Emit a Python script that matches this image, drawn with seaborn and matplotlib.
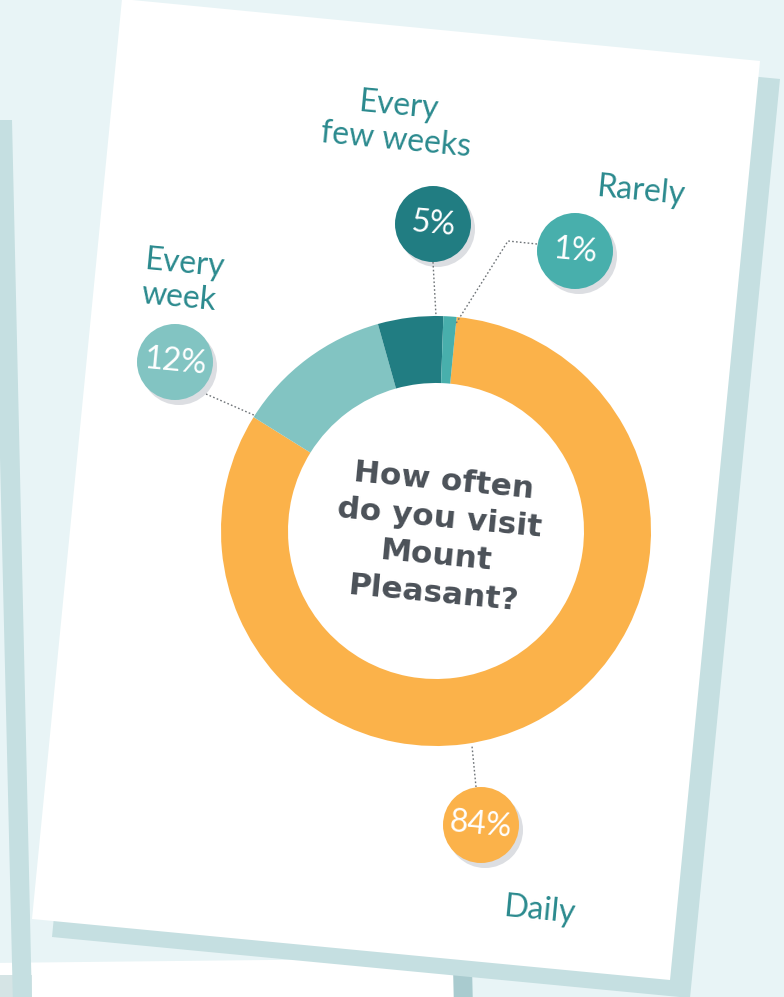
import numpy as np
import matplotlib
matplotlib.use("Agg")
import matplotlib.pyplot as plt
from matplotlib.patches import Polygon, Circle
import seaborn as sns

# ---------------- data ----------------
categories = ["Daily", "Every week", "Every few weeks", "Rarely"]
values = [84, 12, 5, 1]
pct_labels = ["84%", "12%", "5%", "1%"]
cat_labels = ["Daily", "Every\nweek", "Every\nfew weeks", "Rarely"]
title_text = "How often\ndo you visit\nMount\nPleasant?"

palette = sns.color_palette(["#fbb24a", "#82c4c2", "#217d82", "#48afac"])

sns.set_theme(style="white")
plt.rcParams['font.family'] = ['Lato', 'DejaVu Sans']

W, H = 784, 997
fig = plt.figure(figsize=(W / 100, H / 100), dpi=100)
ax = fig.add_axes([0, 0, 1, 1])
fig.patch.set_facecolor("#e8f4f6")
ax.set_facecolor("#e8f4f6")

ROT = -5.45
SHADOW = "#c5dfe1"

# ---------------- background cards ----------------
ax.add_patch(Polygon([(-10, 963), (455, 958), (456, 1010), (-10, 1010)], closed=True,
                     facecolor="white", edgecolor="none", zorder=1))
ax.add_patch(Polygon([(453, 966), (472, 966), (473, 1010), (454, 1010)], closed=True,
                     facecolor="#a9cbcf", edgecolor="none", zorder=1.5))
ax.add_patch(Polygon([(-10, 975), (32, 975), (32, 1010), (-10, 1010)], closed=True,
                     facecolor="#d5e4e5", edgecolor="none", zorder=1.2))
ax.add_patch(Polygon([(-8, 120), (12, 120), (32, 1005), (13, 1005)], closed=True,
                     facecolor=SHADOW, edgecolor="none", zorder=2))

card = np.array([(122, -1), (760, 61), (670, 980), (32, 919)])
ax.add_patch(Polygon(card + np.array([20, 18]), closed=True,
                     facecolor=SHADOW, edgecolor="none", zorder=3))
ax.add_patch(Polygon(card, closed=True, facecolor="white", edgecolor="none", zorder=4))

# ---------------- donut ----------------
cx, cy, R, RIN = 436, 531, 215, 148
wedges, _ = ax.pie(values, colors=palette, startangle=-84.5, counterclock=True,
                   center=(cx, cy), radius=R,
                   wedgeprops=dict(width=R - RIN, edgecolor="none", linewidth=0),
                   frame=True)
for w in wedges:
    w.set_zorder(5)

# ---------------- bubbles ----------------
bubbles = {
    "Daily": (481, 825),
    "Every week": (175, 362),
    "Every few weeks": (433, 224),
    "Rarely": (575, 251),
}
br = 38
for i, cat in enumerate(categories):
    bx, by = bubbles[cat]
    ax.add_patch(Circle((bx + 4, by + 5), br, facecolor="#dcdee2", edgecolor="none", zorder=6))
    ax.add_patch(Circle((bx, by), br, facecolor=palette[i], edgecolor="none", zorder=7))
    ax.text(bx, by, pct_labels[i], color="white", fontsize=23, fontweight="normal",
            ha="center", va="center", rotation=ROT, rotation_mode="anchor", zorder=8)

lead = dict(color="#6f7478", lw=1.0, ls=(0, (1.2, 1.6)), zorder=6.5)
ax.plot([433, 436], [262, 316], **lead)
ax.plot([537, 508, 455], [244, 241, 325], **lead)
ax.plot([206, 256], [394, 416], **lead)
ax.plot([476, 472], [787, 746], **lead)

# ---------------- category labels ----------------
TEAL = "#2b8a8e"
lab = dict(color=TEAL, fontsize=23, fontweight="normal", rotation=ROT,
           rotation_mode="anchor", zorder=8, linespacing=1.15)
ax.text(397, 123, cat_labels[2], ha="center", va="center", multialignment="center", **lab)
ax.text(641, 191, cat_labels[3], ha="center", va="center", **lab)
ax.text(143, 277, cat_labels[1], ha="left", va="center", multialignment="left", **lab)
ax.text(539, 910, cat_labels[0], ha="center", va="center", **lab)

# ---------------- center title ----------------
ax.text(438, 537, title_text, ha="center", va="center", multialignment="center",
        color="#4b5158", fontsize=22.5, fontweight="bold", family=["DejaVu Sans"],
        rotation=ROT, rotation_mode="anchor", linespacing=1.38, zorder=8)

ax.set_xlim(0, W)
ax.set_ylim(H, 0)
ax.set_aspect("auto")
ax.axis("off")

fig.savefig("out.png", dpi=100, facecolor=fig.get_facecolor())
